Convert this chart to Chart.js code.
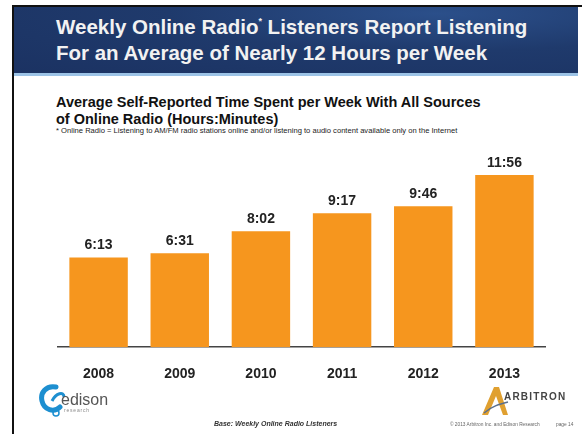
<!DOCTYPE html>
<html>
<head>
<meta charset="utf-8">
<script src="https://cdn.jsdelivr.net/npm/chart.js@4/dist/chart.umd.min.js"></script>
<style>
  body { margin: 0; width: 582px; height: 434px; background: #fff; position: relative; overflow: hidden; font-family: "Liberation Sans", Arial, sans-serif; }
  #frameLeft { position: absolute; left: 12px; top: 5px; width: 2px; height: 429px; background: #111; }
  #frameTop { position: absolute; left: 12px; top: 5px; width: 570px; height: 2px; background: #111; }
  #header { position: absolute; left: 14px; top: 7px; width: 564px; height: 66px;
    background: radial-gradient(ellipse at 75% 10%, #2b4f8a 0%, #1f3a6c 45%, #1b3262 100%);
    border-bottom: 3px solid #9cc3e6; }
  #title { position: absolute; left: 42px; top: 1px; color: #f2f2f2; font-weight: bold; font-size: 20.5px; line-height: 26px; white-space: nowrap; }
  #title sup { font-size: 9px; vertical-align: 10px; }
  #subtitle { position: absolute; left: 56px; top: 94px; color: #111; font-weight: bold; font-size: 14.5px; line-height: 17px; white-space: nowrap; }
  #note { position: absolute; left: 56px; top: 126px; color: #222; font-size: 7.6px; white-space: nowrap; }
  #wrap { position: absolute; left: 14px; top: 140px; width: 564px; height: 264px; }
  #base { position: absolute; left: 214px; top: 420px; font-size: 7px; font-weight: bold; font-style: italic; color: #333; white-space: nowrap; }
  #copy { position: absolute; left: 450px; top: 422px; font-size: 4.8px; color: #666; white-space: nowrap; }
  #page { position: absolute; left: 556px; top: 422px; font-size: 4.8px; color: #666; white-space: nowrap; }
  #edison { position: absolute; left: 38px; top: 383px; }
  #arbitron { position: absolute; left: 478px; top: 382px; }
</style>
</head>
<body>
<div id="frameLeft"></div>
<div id="frameTop"></div>
<div id="header">
  <div id="title">Weekly Online Radio<sup>*</sup> Listeners Report Listening<br>For an Average of Nearly 12 Hours per Week</div>
</div>
<div id="subtitle">Average Self-Reported Time Spent per Week With All Sources<br>of Online Radio (Hours:Minutes)</div>
<div id="note">* Online Radio = Listening to AM/FM radio stations online and/or listening to audio content available only on the Internet</div>
<div id="wrap"><canvas id="chart"></canvas></div>

<svg id="edison" width="80" height="36" viewBox="0 0 80 36">
  <path d="M18 4 C8 2 2 10 4 18 C6 27 16 30 22 24" fill="none" stroke="#1d8fd0" stroke-width="5" stroke-linecap="round"/>
  <path d="M14 18 C18 10 26 8 26 14" fill="none" stroke="#1d8fd0" stroke-width="3"/>
  <circle cx="18" cy="30" r="3" fill="none" stroke="#1d8fd0" stroke-width="1.5"/>
  <text x="23" y="22" font-family="Liberation Sans, Arial" font-size="16" fill="#555">edison</text>
  <text x="26" y="29" font-family="Liberation Sans, Arial" font-size="5" fill="#888" letter-spacing="0.8">research</text>
</svg>
<svg id="arbitron" width="104" height="36" viewBox="0 0 104 36">
  <path d="M4 33 L16 5 L21 5 L30 33 L25 33 L18 14 L10 33 Z" fill="#e0a030"/>
  <path d="M6 31 C14 24 22 22 30 20" fill="none" stroke="#5a6f8c" stroke-width="1.5"/>
  <text x="26" y="18" font-family="Liberation Sans, Arial" font-size="10" font-weight="bold" fill="#444" letter-spacing="1.2">ARBITRON</text>
</svg>
<div id="base">Base: Weekly Online Radio Listeners</div>
<div id="copy">© 2013 Arbitron Inc. and Edison Research</div>
<div id="page">page 14</div>

<script>
// years and average weekly listening time, in minutes (h:mm from the bar labels)
var years = ['2008', '2009', '2010', '2011', '2012', '2013'];
var minutesPerWeek = [373, 391, 482, 557, 586, 716];

function hhmm(v) {
    var m = v % 60;
    return Math.floor(v / 60) + ':' + (m < 10 ? '0' + m : m);
}

var valueLabels = {
    id: 'valueLabels',
    afterDatasetsDraw: function(chart) {
        var ctx = chart.ctx;
        var meta = chart.getDatasetMeta(0);
        ctx.save();
        ctx.font = 'bold 14px "Liberation Sans", Arial, sans-serif';
        ctx.fillStyle = '#222';
        ctx.textAlign = 'center';
        ctx.textBaseline = 'bottom';
        meta.data.forEach(function(bar, i) {
            ctx.fillText(hhmm(minutesPerWeek[i]), bar.x, bar.y - 5);
        });
        ctx.restore();
    }
};

var ctx = document.getElementById('chart').getContext('2d');
var myChart = new Chart(ctx, {
    type: 'bar',
    data: {
        labels: years,
        datasets: [{
            data: minutesPerWeek,
            backgroundColor: '#f6961e',
            barPercentage: 0.72,
            categoryPercentage: 1
        }]
    },
    options: {
        responsive: true,
        maintainAspectRatio: false,
        animation: false,
        layout: { padding: { top: 10, bottom: 10, left: 44, right: 33 } },
        plugins: { legend: { display: false }, tooltip: { enabled: false } },
        scales: {
            x: {
                grid: { display: false },
                border: { display: true, color: '#444', width: 1.5 },
                ticks: {
                    color: '#222',
                    padding: 11,
                    font: { family: '"Liberation Sans", Arial, sans-serif', size: 14, weight: 'bold' }
                }
            },
            y: {
                display: false,
                min: 0,
                max: 820
            }
        }
    },
    plugins: [valueLabels]
});
</script>
</body>
</html>
